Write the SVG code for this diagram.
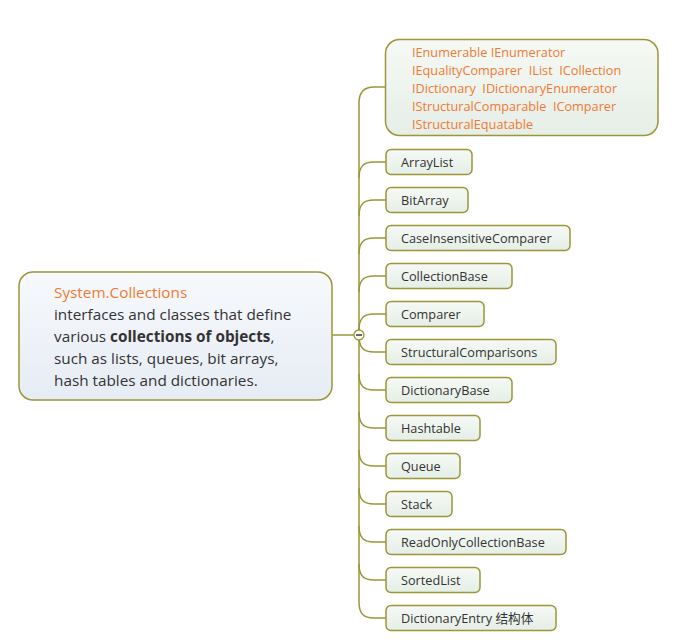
<svg xmlns="http://www.w3.org/2000/svg" width="680" height="640" viewBox="0 0 680 640">
<style>
.box{stroke:#9b9636;stroke-width:1.5;fill:url(#g)}
.t{font-family:"Open Sans","Noto Sans",sans-serif;font-size:12.7px;fill:#333333}
.o{font-family:"Open Sans","Noto Sans",sans-serif;font-size:12.7px;fill:#f07a32}
.c{fill:none;stroke:#9b9636;stroke-width:1.5}
.r{font-family:"Open Sans","Noto Sans",sans-serif;font-size:15.3px;fill:#333333}
</style>
<defs>
<linearGradient id="g" x1="0" y1="0" x2="0" y2="1"><stop offset="0" stop-color="#f6f9f5"/><stop offset="1" stop-color="#e5eee7"/></linearGradient>
<linearGradient id="gr" x1="0" y1="0" x2="0" y2="1"><stop offset="0" stop-color="#f7f9fc"/><stop offset="1" stop-color="#e6ecf4"/></linearGradient>
</defs>
<rect width="680" height="640" fill="#ffffff"/>
<g id="connectors">
<path class="c" d="M332,335 H354"/>
<path class="c" d="M359,103 V602"/>
<path class="c" d="M359,103 C359,92 364,87 374,87 H386"/>
<path class="c" d="M359,178 C359,166 364,162 374,162 H386"/>
<path class="c" d="M359,216 C359,204 364,200 374,200 H386"/>
<path class="c" d="M359,254 C359,242 364,238 374,238 H386"/>
<path class="c" d="M359,292 C359,280 364,276 374,276 H386"/>
<path class="c" d="M359,330 C359,318 364,314 374,314 H386"/>
<path class="c" d="M359,336 C359,348 364,352 374,352 H386"/>
<path class="c" d="M359,374 C359,386 364,390 374,390 H386"/>
<path class="c" d="M359,412 C359,424 364,428 374,428 H386"/>
<path class="c" d="M359,450 C359,462 364,466 374,466 H386"/>
<path class="c" d="M359,488 C359,500 364,504 374,504 H386"/>
<path class="c" d="M359,526 C359,538 364,542 374,542 H386"/>
<path class="c" d="M359,564 C359,576 364,580 374,580 H386"/>
<path class="c" d="M359,602 C359,614 364,618 374,618 H386"/>
<circle cx="359" cy="335" r="5" fill="#ffffff" stroke="#9b9636" stroke-width="1.3"/>
<path d="M356,335 H362" stroke="#333333" stroke-width="1.5"/>
</g>
<g id="root">
<rect x="19" y="272" width="313" height="128" rx="14" fill="url(#gr)" stroke="#9b9636" stroke-width="1.5"/>
<text x="54" y="298" class="r" style="fill:#f07a32">System.Collections</text>
<text x="54" y="320" class="r">interfaces and classes that define</text>
<text x="54" y="342" class="r">various <tspan font-weight="bold">collections of objects</tspan>,</text>
<text x="54" y="364" class="r">such as lists, queues, bit arrays,</text>
<text x="54" y="386" class="r">hash tables and dictionaries.</text>
</g>
<g id="interfaces">
<rect x="385.5" y="39.5" width="272.5" height="96" rx="14" class="box"/>
<text x="412" y="57" class="o">IEnumerable IEnumerator</text>
<text x="412" y="75" class="o" xml:space="preserve">IEqualityComparer  IList  ICollection</text>
<text x="412" y="93" class="o" xml:space="preserve">IDictionary  IDictionaryEnumerator</text>
<text x="412" y="111" class="o" xml:space="preserve">IStructuralComparable  IComparer</text>
<text x="412" y="129" class="o">IStructuralEquatable</text>
</g>
<g id="n1"><rect x="386" y="149.5" width="86" height="25" rx="5" class="box"/><text x="401" y="167" class="t">ArrayList</text></g>
<g id="n2"><rect x="386" y="187.5" width="82" height="25" rx="5" class="box"/><text x="401" y="205" class="t">BitArray</text></g>
<g id="n3"><rect x="386" y="225.5" width="184" height="25" rx="5" class="box"/><text x="401" y="243" class="t">CaseInsensitiveComparer</text></g>
<g id="n4"><rect x="386" y="263.5" width="126" height="25" rx="5" class="box"/><text x="401" y="281" class="t">CollectionBase</text></g>
<g id="n5"><rect x="386" y="301.5" width="98" height="25" rx="5" class="box"/><text x="401" y="319" class="t">Comparer</text></g>
<g id="n6"><rect x="386" y="339.5" width="170" height="25" rx="5" class="box"/><text x="401" y="357" class="t">StructuralComparisons</text></g>
<g id="n7"><rect x="386" y="377.5" width="126" height="25" rx="5" class="box"/><text x="401" y="395" class="t">DictionaryBase</text></g>
<g id="n8"><rect x="386" y="415.5" width="94" height="25" rx="5" class="box"/><text x="401" y="433" class="t">Hashtable</text></g>
<g id="n9"><rect x="386" y="453.5" width="74" height="25" rx="5" class="box"/><text x="401" y="471" class="t">Queue</text></g>
<g id="n10"><rect x="386" y="491.5" width="66" height="25" rx="5" class="box"/><text x="401" y="509" class="t">Stack</text></g>
<g id="n11"><rect x="386" y="529.5" width="180" height="25" rx="5" class="box"/><text x="401" y="547" class="t">ReadOnlyCollectionBase</text></g>
<g id="n12"><rect x="386" y="567.5" width="94" height="25" rx="5" class="box"/><text x="401" y="585" class="t">SortedList</text></g>
<g id="n13"><rect x="386" y="605.5" width="170" height="25" rx="5" class="box"/><text x="401" y="623" class="t">DictionaryEntry <tspan font-family="'Noto Sans CJK SC',sans-serif">结构体</tspan></text></g>
</svg>
